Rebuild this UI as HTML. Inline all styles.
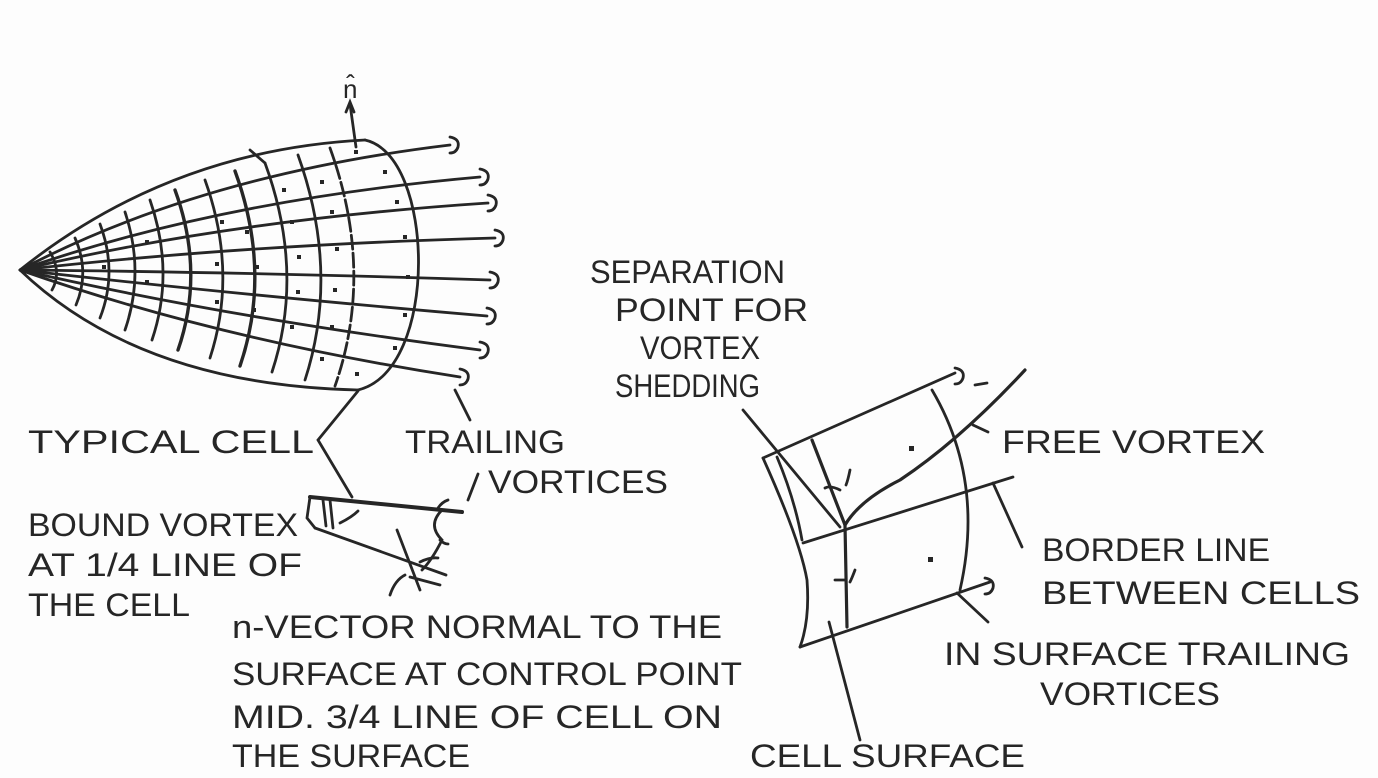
<!DOCTYPE html>
<html><head><meta charset="utf-8"><style>
html,body{margin:0;padding:0;background:#fff;}
svg{display:block;}
text{font-family:"Liberation Sans",sans-serif;font-size:32px;fill:#262626;}
</style></head><body>
<svg width="1378" height="778" viewBox="0 0 1378 778" xmlns="http://www.w3.org/2000/svg">
<rect width="1378" height="778" fill="#fdfdfd"/>
<g fill="none" stroke="#262626" stroke-width="2.8" stroke-linecap="round">
<path d="M20,270 Q170,150 365,140"/>
<path d="M20,270 Q140,385 358,390"/>
<path d="M365,140 C435,155 440,370 358,390"/>
<path d="M20,270 Q200,175 450,145"/>
<path d="M20,270 Q220,200 480,177"/>
<path d="M20,270 Q230,220 488,203"/>
<path d="M20,270 Q240,245 495,238"/>
<path d="M20,270 Q240,272 490,280"/>
<path d="M20,270 Q240,295 487,316"/>
<path d="M20,270 Q230,318 480,350"/>
<path d="M20,270 Q220,340 460,377"/>
<path d="M450,137 q10,2 8,10 q-2,6 -8,6"/>
<path d="M480,169 q10,2 8,10 q-2,6 -8,6"/>
<path d="M488,195 q10,2 8,10 q-2,6 -8,6"/>
<path d="M495,230 q10,2 8,10 q-2,6 -8,6"/>
<path d="M490,272 q10,2 8,10 q-2,6 -8,6"/>
<path d="M487,308 q10,2 8,10 q-2,6 -8,6"/>
<path d="M480,342 q10,2 8,10 q-2,6 -8,6"/>
<path d="M460,369 q10,2 8,10 q-2,6 -8,6"/>
<path d="M50,252 Q62,272 52,290"/>
<path d="M75,238 Q90,272 76,305"/>
<path d="M100,224 Q118,272 100,318"/>
<path d="M125,212 Q145,272 125,330"/>
<path d="M150,200 Q175,272 152,340"/>
<path d="M175,190 Q205,272 178,350" stroke-width="3.4"/>
<path d="M205,180 Q238,272 210,358"/>
<path d="M235,171 Q272,272 240,366" stroke-width="3.4"/>
<path d="M265,163 Q305,272 272,372"/>
<path d="M298,155 Q340,272 305,380"/>
<path d="M330,148 Q375,272 335,386" stroke-dasharray="14,4"/>
<path d="M350,104 L356,147"/>
<path d="M346,112 L350,102 L354,112"/>
<path d="M250,150 L265,163"/>
<path d="M358,391 L318,440 L352,497"/>
<path d="M455,390 L470,420"/>
<path d="M478,474 L468,500"/>
<path d="M310,497 L462,512" stroke-width="4"/>
<path d="M315,528 L446,575"/>
<path d="M310,497 L307,518 L315,528"/>
<path d="M323,500 L326,526 M330,500 L333,528"/>
<path d="M340,523 q12,-6 18,-12"/>
<path d="M442,510 q-15,15 0,30 q-10,20 -20,30"/>
<path d="M438,508 q4,-6 10,-8 M440,540 q4,4 8,4"/>
<path d="M397,530 L420,590 M405,575 q-10,5 -15,20 M420,562 q10,-5 18,-4 M410,577 L440,585"/>
<path d="M763,458 L955,373"/>
<path d="M763,458 Q800,540 807,580 Q810,620 800,647"/>
<path d="M800,647 L990,582"/>
<path d="M932,390 Q985,480 960,590"/>
<path d="M803,543 L1013,477"/>
<path d="M777,457 Q795,500 802,540"/>
<path d="M812,440 L845,525 L847,627" stroke-width="3.2"/>
<path d="M845,525 Q860,500 900,480 Q960,440 1025,370" stroke-width="3.2"/>
<path d="M743,410 L840,527"/>
<path d="M993,483 L1022,547"/>
<path d="M957,593 L988,622"/>
<path d="M829,622 L860,740"/>
<path d="M973,425 L988,432"/>
<path d="M955,368 q10,2 8,10 q-2,6 -8,6 M975,385 l12,-2"/>
<path d="M985,578 q10,2 8,10 q-2,6 -8,6"/>
<path d="M840,490 q-10,-5 -15,-2 M850,470 q-2,10 -4,15 M855,570 q-3,8 -5,12 M835,580 l10,0"/>
</g>
<g fill="#262626">
<rect x="909" y="446" width="5" height="5"/><rect x="928" y="557" width="5" height="5"/>
<rect x="354" y="150" width="4" height="4"/><rect x="383" y="170" width="4" height="4"/>
<rect x="395" y="200" width="4" height="4"/><rect x="403" y="235" width="4" height="4"/>
<rect x="406" y="275" width="4" height="4"/><rect x="403" y="313" width="4" height="4"/>
<rect x="393" y="346" width="4" height="4"/><rect x="355" y="372" width="4" height="4"/>
<rect x="320" y="180" width="4" height="4"/><rect x="330" y="210" width="4" height="4"/>
<rect x="335" y="247" width="4" height="4"/><rect x="333" y="288" width="4" height="4"/>
<rect x="330" y="325" width="4" height="4"/><rect x="320" y="357" width="4" height="4"/>
<rect x="282" y="188" width="4" height="4"/><rect x="290" y="220" width="4" height="4"/>
<rect x="297" y="255" width="4" height="4"/><rect x="296" y="290" width="4" height="4"/>
<rect x="290" y="325" width="4" height="4"/><rect x="245" y="230" width="4" height="4"/>
<rect x="255" y="265" width="4" height="4"/><rect x="252" y="308" width="4" height="4"/>
<rect x="220" y="220" width="4" height="4"/><rect x="215" y="262" width="4" height="4"/>
<rect x="215" y="300" width="4" height="4"/><rect x="145" y="240" width="4" height="4"/>
<rect x="145" y="280" width="4" height="4"/><rect x="102" y="265" width="4" height="4"/>
</g>
<text x="343" y="98" style="font-size:26px">n̂</text>
<text x="590" y="283" textLength="195" lengthAdjust="spacingAndGlyphs">SEPARATION</text>
<text x="615" y="321" textLength="193" lengthAdjust="spacingAndGlyphs">POINT FOR</text>
<text x="640" y="359" textLength="120" lengthAdjust="spacingAndGlyphs">VORTEX</text>
<text x="615" y="397" textLength="145" lengthAdjust="spacingAndGlyphs">SHEDDING</text>
<text x="28" y="453" textLength="286" lengthAdjust="spacingAndGlyphs">TYPICAL CELL</text>
<text x="405" y="453" textLength="160" lengthAdjust="spacingAndGlyphs">TRAILING</text>
<text x="488" y="493" textLength="180" lengthAdjust="spacingAndGlyphs">VORTICES</text>
<text x="1002" y="453" textLength="263" lengthAdjust="spacingAndGlyphs">FREE VORTEX</text>
<text x="28" y="536" textLength="270" lengthAdjust="spacingAndGlyphs">BOUND VORTEX</text>
<text x="28" y="576" textLength="274" lengthAdjust="spacingAndGlyphs">AT 1/4 LINE OF</text>
<text x="28" y="616" textLength="162" lengthAdjust="spacingAndGlyphs">THE CELL</text>
<text x="232" y="638" textLength="490" lengthAdjust="spacingAndGlyphs">n-VECTOR NORMAL TO THE</text>
<text x="232" y="685" textLength="510" lengthAdjust="spacingAndGlyphs">SURFACE AT CONTROL POINT</text>
<text x="232" y="728" textLength="490" lengthAdjust="spacingAndGlyphs">MID. 3/4 LINE OF CELL ON</text>
<text x="232" y="767" textLength="238" lengthAdjust="spacingAndGlyphs">THE SURFACE</text>
<text x="1042" y="561" textLength="228" lengthAdjust="spacingAndGlyphs">BORDER LINE</text>
<text x="1042" y="604" textLength="318" lengthAdjust="spacingAndGlyphs">BETWEEN CELLS</text>
<text x="944" y="665" textLength="406" lengthAdjust="spacingAndGlyphs">IN SURFACE TRAILING</text>
<text x="1040" y="705" textLength="180" lengthAdjust="spacingAndGlyphs">VORTICES</text>
<text x="750" y="767" textLength="275" lengthAdjust="spacingAndGlyphs">CELL SURFACE</text>
</svg>
</body></html>
